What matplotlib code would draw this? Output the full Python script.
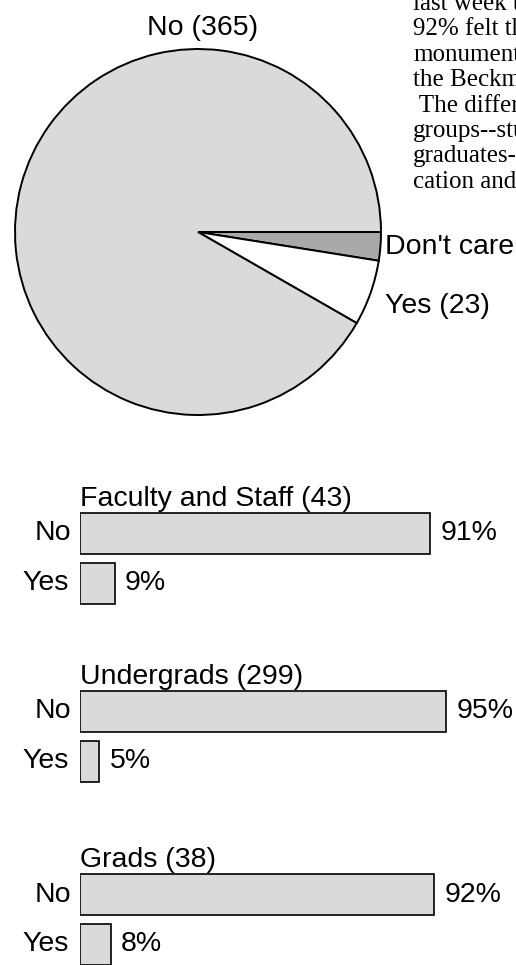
import matplotlib.pyplot as plt

# overall poll
pie_labels = ["Don't care (10)", "Yes (23)", "No (365)"]
pie_counts = [10, 23, 365]
pie_colors = ['#a9a9a9', 'white', '#dadada']

# breakdown by group
groups = ['Faculty and Staff (43)', 'Undergrads (299)', 'Grads (38)']
no_pct = [91, 95, 92]
yes_pct = [9, 5, 8]

# newspaper column cut off on the right edge of the scan
column_lines = ['last week that', '92% felt that', 'monument', 'the Beckman',
                ' The differences', 'groups--students', 'graduates--', 'cation and']

W, H = 516, 965
GRAY = '#dadada'
FS = 20.5
plt.rcParams['font.family'] = ['Liberation Sans', 'DejaVu Sans']

fig = plt.figure(figsize=(W / 100, H / 100), dpi=100)


def fx(x):
    return x / W


def fy(y):
    return 1 - y / H


# ---- pie ----
cx, cy, r = 198, 232, 183
pad = 1.03
ax_pie = fig.add_axes([fx(cx - r * pad), fy(cy + r * pad), 2 * r * pad / W, 2 * r * pad / H])
ax_pie.pie(pie_counts, colors=pie_colors, startangle=0, counterclock=False,
           wedgeprops=dict(edgecolor='black', linewidth=1.4))
ax_pie.set_xlim(-pad, pad)
ax_pie.set_ylim(-pad, pad)
ax_pie.set_aspect('equal')
ax_pie.axis('off')

fig.text(fx(203), fy(35), pie_labels[2], ha='center', va='baseline', fontsize=FS)
fig.text(fx(385), fy(254), pie_labels[0], ha='left', va='baseline', fontsize=FS)
fig.text(fx(385), fy(313), pie_labels[1], ha='left', va='baseline', fontsize=FS)

for i, line in enumerate(column_lines):
    fig.text(fx(413), fy(10 + 25.4 * i), line, ha='left', va='baseline',
             fontsize=18, family='Liberation Serif', color='black')

# ---- bars ----
bx0 = 80
scale = 3.85  # px per percent
top, bottom = 480, 965
ax = fig.add_axes([fx(bx0), fy(bottom), 100 * scale / W, (bottom - top) / H])
ax.set_xlim(0, 100)
ax.set_ylim(bottom, top)
ax.axis('off')

tops = [513, 691, 874]
bh = 41
for g, t, n, y in zip(groups, tops, no_pct, yes_pct):
    yn = t + bh / 2
    yy = t + 70
    ax.barh([yn, yy], [n, y], height=bh, left=0, color=GRAY,
            edgecolor='black', linewidth=1.2)
    ax.text(0, t - 7, g, ha='left', va='baseline', fontsize=FS)
    ax.text(-2.4, yn, 'No', ha='right', va='center', fontsize=FS)
    ax.text(-2.9, yy, 'Yes', ha='right', va='center', fontsize=FS)
    ax.text(n + 2.7, yn, f'{n}%', ha='left', va='center', fontsize=FS, clip_on=False)
    ax.text(y + 2.7, yy, f'{y}%', ha='left', va='center', fontsize=FS, clip_on=False)

fig.savefig('out.png', dpi=100)
